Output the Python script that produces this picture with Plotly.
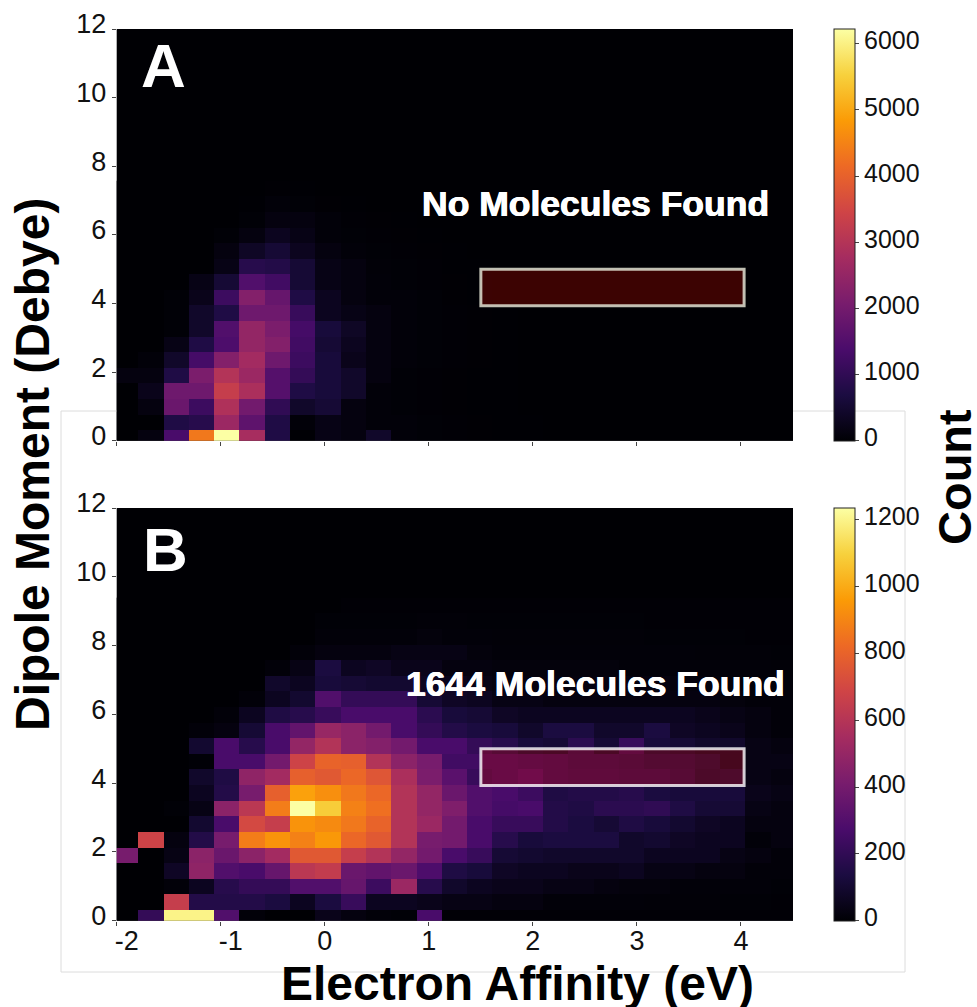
import plotly.graph_objects as go
import plotly.express as px

W, H = 977, 1007
x_centers = [-1.914 + 0.2433 * i for i in range(27)]
y_centers = [0.085 + 0.454 * i for i in range(27)]
x_ticks = [-2, -1, 0, 1, 2, 3, 4]
x_labels = ["-2", "-1", "0", "1", "2", "3", "4"]
y_ticks = [0, 2, 4, 6, 8, 10, 12]
box_x = [1.5, 4.03]
box_y = [3.93, 5.0]

counts_a = [
 [0,125,1370,4360,6227,2800,750,10,190,125,435,60,30,20,15,10,8,5,5,5,5,5,5,5,5,5,5],
 [0,0,750,870,2615,1680,750,60,190,125,60,60,30,20,15,10,8,5,5,5,5,5,5,5,5,5,5],
 [0,125,1870,1185,2925,1990,1000,435,560,125,60,30,20,15,10,8,5,5,5,5,5,5,5,5,5,5,5],
 [0,250,1930,1930,3300,2865,1555,750,620,435,60,30,20,15,10,8,5,5,5,5,5,5,5,5,5,5,5],
 [125,125,750,2115,2990,2615,1555,1060,620,435,125,30,20,15,10,8,5,5,5,5,5,5,5,5,5,5,5],
 [0,60,435,1310,2240,2740,1930,1185,620,250,125,60,30,20,15,10,5,5,5,5,5,5,5,5,5,5,5],
 [0,0,190,750,1430,2490,2240,1245,560,310,125,60,30,20,15,10,5,5,5,5,5,5,5,5,5,5,5],
 [0,0,30,435,1495,2490,2115,1310,620,375,125,60,30,20,15,10,5,5,5,5,5,5,5,5,5,5,5],
 [0,0,30,435,750,1930,1930,1120,310,190,125,60,30,20,15,10,5,5,5,5,5,5,5,5,5,5,5],
 [0,0,30,250,1185,2240,1805,750,310,125,60,60,30,15,10,5,5,5,5,5,5,5,5,5,5,5,5],
 [0,0,0,190,560,1495,1245,560,190,125,60,30,20,15,10,5,5,5,5,5,5,5,5,5,5,5,5],
 [0,0,0,0,190,870,810,560,190,125,40,30,20,10,8,5,5,5,5,5,5,5,5,5,5,5,5],
 [0,0,0,0,125,375,560,310,125,60,30,20,15,10,5,5,5,5,5,5,5,5,5,5,5,5,5],
 [0,0,0,0,30,125,310,190,60,30,20,15,10,5,5,5,5,5,5,5,5,5,5,5,5,5,5],
 [0,0,0,0,0,30,125,125,60,20,15,10,5,5,5,5,5,5,5,5,5,5,5,5,5,5,5],
 [0,0,0,0,0,10,60,30,15,10,5,5,5,5,5,5,5,5,5,5,5,5,5,5,5,5,5],
 [0,0,0,0,0,5,15,10,5,5,5,5,5,5,5,5,5,5,5,5,5,5,5,5,5,5,5],
]
counts_b = [
 [0,210,1199,1199,297,12,0,0,49,25,12,6,272,4,4,4,4,4,4,4,4,4,4,4,4,4,4],
 [0,0,655,161,161,161,136,62,136,222,62,62,49,37,37,25,25,12,12,12,12,8,8,8,6,6,4],
 [0,0,12,62,173,210,210,297,297,358,235,519,173,87,62,49,49,37,37,25,19,19,12,12,12,12,6],
 [0,0,74,482,297,272,358,618,643,371,346,371,284,148,124,74,62,62,49,49,62,37,37,25,25,12,12],
 [408,0,37,470,371,470,544,766,766,655,593,494,396,272,222,111,99,87,87,87,87,62,62,62,37,25,12],
 [0,680,25,161,408,878,939,890,952,816,766,593,408,396,272,173,124,136,136,136,87,99,74,62,62,12,25],
 [0,0,0,99,272,705,655,939,915,865,803,593,519,396,272,222,222,161,136,111,148,124,99,74,62,25,25],
 [0,0,6,37,470,618,878,1236,1088,890,840,593,494,433,297,260,272,161,148,185,185,198,148,111,111,37,25],
 [0,0,0,62,161,408,791,976,927,865,816,593,494,371,297,272,235,148,161,161,173,136,124,124,124,49,37],
 [0,0,0,87,148,482,544,791,766,816,754,569,420,321,222,247,284,222,210,210,198,198,173,124,136,37,25],
 [0,0,0,6,272,272,396,680,803,791,593,470,408,247,247,247,235,222,198,198,185,161,161,136,87,37,37],
 [0,0,0,99,272,173,272,494,593,470,445,396,272,272,210,173,124,111,185,111,222,124,111,87,87,37,25],
 [0,0,0,12,25,111,272,346,507,470,396,272,210,161,136,124,87,136,136,87,87,136,74,62,49,25,12],
 [0,0,0,0,12,62,148,173,222,272,272,272,185,124,111,74,62,62,62,62,62,62,62,49,37,25,12],
 [0,0,0,0,0,12,62,99,297,210,210,210,111,74,62,37,37,25,25,25,25,25,25,25,19,12,12],
 [0,0,0,0,0,0,87,62,124,111,99,99,62,49,37,25,25,25,25,25,25,25,19,19,12,12,12],
 [0,0,0,0,0,0,12,37,136,62,74,49,49,25,25,19,19,19,19,19,12,12,12,12,12,12,8],
 [0,0,0,0,0,0,0,12,25,25,25,37,37,37,19,12,12,12,12,12,12,12,12,8,8,8,6],
 [0,0,0,0,0,0,0,0,12,12,12,12,19,12,12,8,8,8,8,8,8,6,6,6,6,4,4],
 [0,0,0,0,0,0,0,0,6,6,6,6,8,8,6,6,6,6,6,6,6,4,4,4,4,4,4],
 [0,0,0,0,0,0,0,0,0,4,4,4,4,4,4,4,4,4,4,4,4,4,4,4,4,4,4],
]

fx = lambda px_: px_ / W
fy = lambda py_: 1 - py_ / H
x_dom = [fx(116.7), fx(793)]
dom_a = [fy(440.7), fy(29)]
dom_b = [fy(920.7), fy(508)]
cs = px.colors.sequential.Inferno
FONT = "Liberation Sans, Arial, sans-serif"

fig = go.Figure()
for name, z, ya, xa, dom, zmax in [
    ("A", counts_a, "y", "x", dom_a, 6227),
    ("B", counts_b, "y2", "x2", dom_b, 1236),
]:
    fig.add_trace(go.Heatmap(
        z=z, x=x_centers, y=y_centers[:len(z)], xaxis=xa, yaxis=ya, zmin=0, zmax=zmax,
        colorscale=cs, name=name,
        colorbar=dict(x=fx(834), xanchor="left", xpad=0, ypad=0, y=dom[0], yanchor="bottom",
                      len=dom[1] - dom[0], thickness=21, outlinecolor="#222", outlinewidth=1,
                      ticks="outside", ticklen=4, tickcolor="#444", tickwidth=1,
                      tickfont=dict(family=FONT, size=25, color="#111"),
                      tick0=0, dtick=1000 if name == "A" else 200),
    ))

axis_x = dict(range=[-2, 4.5], domain=x_dom, tickvals=x_ticks, ticktext=x_labels, ticks="outside", ticklen=4,
              tickcolor="#444", showgrid=False, zeroline=False, showline=False, ticklabelstandoff=-8,
              tickfont=dict(family=FONT, size=27, color="#111"))
axis_y = dict(range=[0, 12], tickvals=y_ticks, ticks="outside", ticklen=4, tickcolor="#444",
              showgrid=False, zeroline=False, showline=False, ticklabelshift=-5,
              tickfont=dict(family=FONT, size=27, color="#111"))
fig.update_layout(
    width=W, height=H, margin=dict(l=0, r=0, t=0, b=0, autoexpand=False), paper_bgcolor="white",
    plot_bgcolor="#000004", showlegend=False,
    xaxis=dict(axis_x, anchor="y", showticklabels=False),
    yaxis=dict(axis_y, domain=dom_a, anchor="x"),
    xaxis2=dict(axis_x, anchor="y2", showticklabels=True),
    yaxis2=dict(axis_y, domain=dom_b, anchor="x2"),
)

for xr, yr, lc in [("x", "y", "rgba(225,225,210,.85)"), ("x2", "y2", "rgba(255,255,255,.8)")]:
    fig.add_shape(type="rect", xref=xr, yref=yr, x0=box_x[0], x1=box_x[1], y0=box_y[0], y1=box_y[1],
                  fillcolor="rgba(200,10,0,.3)", line=dict(color=lc, width=3))

fig.add_shape(type="rect", xref="paper", yref="paper", layer="below",
              x0=fx(61), x1=fx(905), y0=fy(972), y1=fy(411), line=dict(color="#dcdcdc", width=1))

def note(text, x, y, size, color="#000", angle=0, shadow=None):
    fig.add_annotation(text="<b>" + text + "</b>", x=fx(x), y=fy(y), xref="paper", yref="paper",
                       showarrow=False, textangle=angle, xanchor="center", yanchor="middle",
                       font=dict(family=FONT, size=size, color=color, shadow=shadow))

GLOW = "0.5px 0 0 white, -0.5px 0 0 white"
note("A", 163, 66, 62, "white")
note("B", 165, 549.5, 62, "white")
note("No Molecules Found", 595, 204, 35.5, "white", shadow=GLOW)
note("1644 Molecules Found", 595, 684, 35.5, "white", shadow=GLOW)
note("Electron Affinity (eV)", 517, 983, 48)
note("Dipole Moment (Debye)", 32, 465, 48, angle=-90)
note("Count", 955, 477, 47, angle=-90)

nudge = ("document.body.style.margin='0';"
         "function nudgeLabels(){"
         "document.querySelectorAll('.colorbar .ytick text, .colorbar .cbaxis text').forEach("
         "function(t){t.setAttribute('dy','-3');});"
         "document.querySelectorAll('.x2tick text, text.x2tick').forEach(function(t){"
         "if(/^[-\\u2212]/.test(t.textContent)){t.setAttribute('dx','10');}});"
         "}"
         "nudgeLabels();setTimeout(nudgeLabels,50);setTimeout(nudgeLabels,300);")
fig.write_html("out.html", post_script=nudge, config={"displayModeBar": False})
